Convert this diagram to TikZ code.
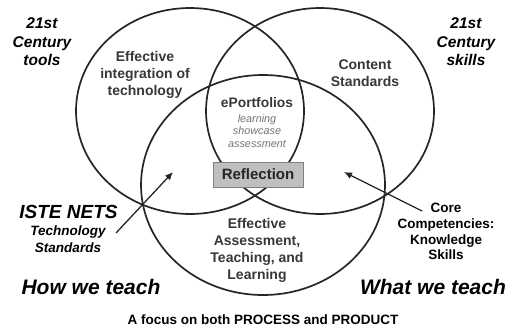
\documentclass[tikz,border=0pt]{standalone}
\usepackage{fontspec}
\setmainfont{Liberation Sans}
\usetikzlibrary{arrows.meta}
\begin{document}
\begin{tikzpicture}[x=1pt,y=-1pt,
  ring/.style={draw=black!85, line width=1.7pt},
  title/.style={font=\bfseries\itshape, text=black, align=center, inner sep=0pt},
  inlabel/.style={font=\bfseries\fontsize{14}{17}\selectfont, text=black!78, align=center, inner sep=0pt},
  sublabel/.style={font=\itshape\fontsize{10.8}{12.5}\selectfont, text=black!55, align=center, inner sep=0pt},
  sidelabel/.style={font=\bfseries, text=black, align=center, inner sep=0pt},
  pointer/.style={draw=black!85, line width=1.3pt, -{Latex[length=8pt,width=7pt]}}
]
\useasboundingbox (0,0) rectangle (518,332);
\fill[white] (0,0) rectangle (518,332);

% three rings
\draw[ring] (190,111) ellipse [x radius=114pt, y radius=103pt];
\draw[ring] (320,111) ellipse [x radius=114pt, y radius=103pt];
\draw[ring] (263,185) ellipse [x radius=122pt, y radius=110pt];

% outer titles
\node[title, font=\bfseries\itshape\fontsize{15.5}{18.5}\selectfont] (tools) at (42,42) {21st\\Century\\tools};
\node[title, font=\bfseries\itshape\fontsize{15.5}{18.5}\selectfont] (skills) at (466,42) {21st\\Century\\skills};

% inner labels
\node[inlabel] (integ) at (145,75) {Effective\\integration of\\technology};
\node[inlabel] (content) at (365,73) {Content\\Standards};
\node[inlabel, font=\bfseries\fontsize{13.8}{16}\selectfont] (eport) at (257,103) {ePortfolios};
\node[sublabel] (eportsub) at (257,131) {learning\\showcase\\assessment};
\node[draw=black!50, fill=black!25, line width=1pt, minimum width=90pt, minimum height=25pt, inner sep=0pt,
      font=\bfseries\fontsize{15}{18}\selectfont, text=black!85] (refl) at (258,174.5) {Reflection};
\node[inlabel] (assess) at (257,250.5) {Effective\\Assessment,\\Teaching, and\\Learning};

% left side
\node[title, font=\bfseries\itshape\fontsize{19}{22}\selectfont] (iste) at (68.5,212) {ISTE NETS};
\node[title, font=\bfseries\itshape\fontsize{13.5}{17}\selectfont] (techstd) at (68,239.5) {Technology\\Standards};
\node[title, font=\bfseries\itshape\fontsize{21}{24}\selectfont] (how) at (91,287) {How we teach};

% right side
\node[sidelabel, font=\bfseries\fontsize{13.5}{15.7}\selectfont] (core) at (446,231.5) {Core\\Competencies:\\Knowledge\\Skills};
\node[title, font=\bfseries\itshape\fontsize{21}{24}\selectfont] (what) at (433,287) {What we teach};

% bottom caption
\node[sidelabel, font=\bfseries\fontsize{13.5}{16}\selectfont] (focus) at (263,320) {A focus on both PROCESS and PRODUCT};

% arrows
\coordinate (isteTail) at (116,233);
\coordinate (isteHead) at (173,172);
\coordinate (coreTail) at (422,211);
\coordinate (coreHead) at (344,172);
\draw[pointer] (isteTail) -- (isteHead);
\draw[pointer] (coreTail) -- (coreHead);
\end{tikzpicture}
\end{document}
